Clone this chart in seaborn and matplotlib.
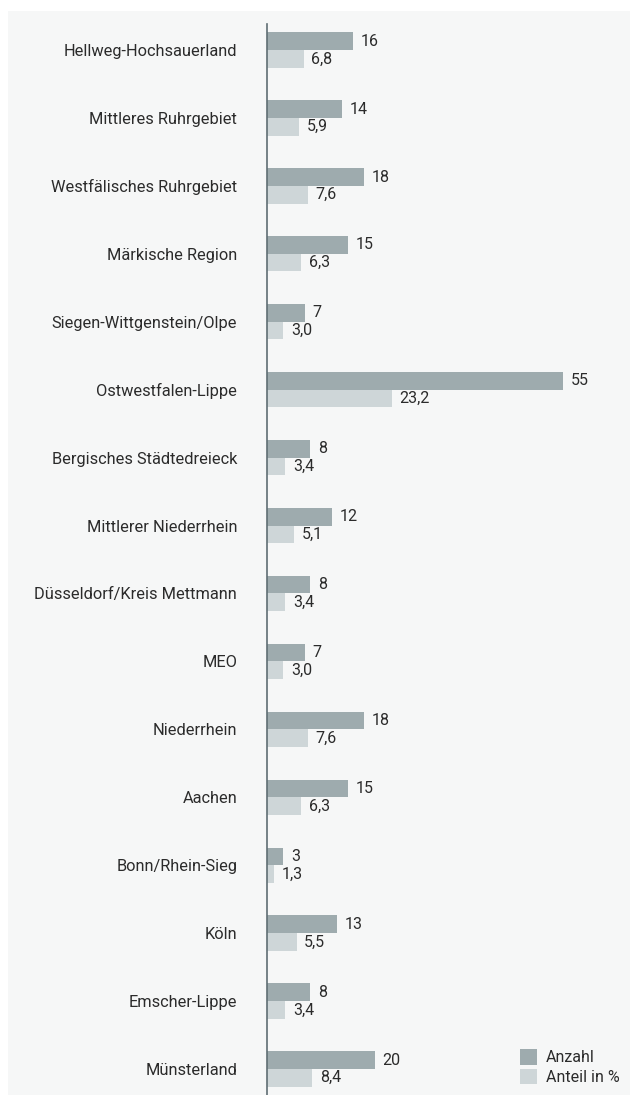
import matplotlib
matplotlib.use("Agg")
import matplotlib.pyplot as plt
from matplotlib.patches import Rectangle, Patch
import seaborn as sns
import pandas as pd

regions = [
    "Hellweg-Hochsauerland", "Mittleres Ruhrgebiet", "Westfälisches Ruhrgebiet",
    "Märkische Region", "Siegen-Wittgenstein/Olpe", "Ostwestfalen-Lippe",
    "Bergisches Städtedreieck", "Mittlerer Niederrhein", "Düsseldorf/Kreis Mettmann",
    "MEO", "Niederrhein", "Aachen", "Bonn/Rhein-Sieg", "Köln", "Emscher-Lippe",
    "Münsterland",
]
anzahl = [16, 14, 18, 15, 7, 55, 8, 12, 8, 7, 18, 15, 3, 13, 8, 20]
anteil = [6.8, 5.9, 7.6, 6.3, 3.0, 23.2, 3.4, 5.1, 3.4, 3.0, 7.6, 6.3, 1.3, 5.5, 3.4, 8.4]
series = ["Anzahl", "Anteil in %"]

df = pd.DataFrame({
    "Region": regions * 2,
    "Wert": anzahl + anteil,
    "Serie": [series[0]] * len(regions) + [series[1]] * len(regions),
})

sns.set_theme(style="white")
plt.rcParams["font.family"] = ["Roboto", "DejaVu Sans"]

W, H = 632, 1095
fig = plt.figure(figsize=(W / 100, H / 100), dpi=100)
fig.patch.set_facecolor("white")

# light panel behind the chart
fig.add_artist(Rectangle((8 / W, 0), (630 - 8) / W, (H - 11) / H,
                         transform=fig.transFigure, facecolor="#f6f7f7",
                         edgecolor="none", zorder=0))

ax_left, ax_right, ax_top, ax_bottom = 267, 630, 24, 1095
ax = fig.add_axes([ax_left / W, 1 - ax_bottom / H,
                   (ax_right - ax_left) / W, (ax_bottom - ax_top) / H])
ax.set_facecolor("none")

colors = {"Anzahl": "#9eabae", "Anteil in %": "#ced6d8"}
sns.barplot(data=df, y="Region", x="Wert", hue="Serie", orient="h",
            palette=colors, width=0.52, gap=0, dodge=True, ax=ax,
            saturation=1, legend=False, linewidth=0, edgecolor="none")

ax.set_xlim(0, (ax_right - ax_left) / 5.38)
ax.set_ylim(len(regions) - 1 + 0.383, -0.383)
ax.set_xlabel("")
ax.set_ylabel("")
ax.set_xticks([])
for s in ["top", "right", "bottom"]:
    ax.spines[s].set_visible(False)
ax.spines["left"].set_color("#5f6e73")
ax.spines["left"].set_linewidth(1.2)
ax.tick_params(axis="y", length=0, pad=21.5, labelsize=11.8, labelcolor="#2b2b2b")

for container, vals in zip(ax.containers, [anzahl, anteil]):
    labels = [str(v) if isinstance(v, int) else f"{v:.1f}".replace(".", ",") for v in vals]
    ax.bar_label(container, labels=labels, padding=5.5, fontsize=11.5, color="#2b2b2b")

handles = [Patch(facecolor=colors[s], edgecolor="none", label=s) for s in series]
ax.legend(handles=handles, loc="lower right", bbox_to_anchor=(1.0, 0.0),
          frameon=False, fontsize=11.5, handlelength=1.1, handleheight=1.1,
          handletextpad=0.55, labelspacing=0.2, borderaxespad=0.25,
          labelcolor="#2b2b2b")

fig.savefig("out.png", dpi=100, facecolor=fig.get_facecolor())
